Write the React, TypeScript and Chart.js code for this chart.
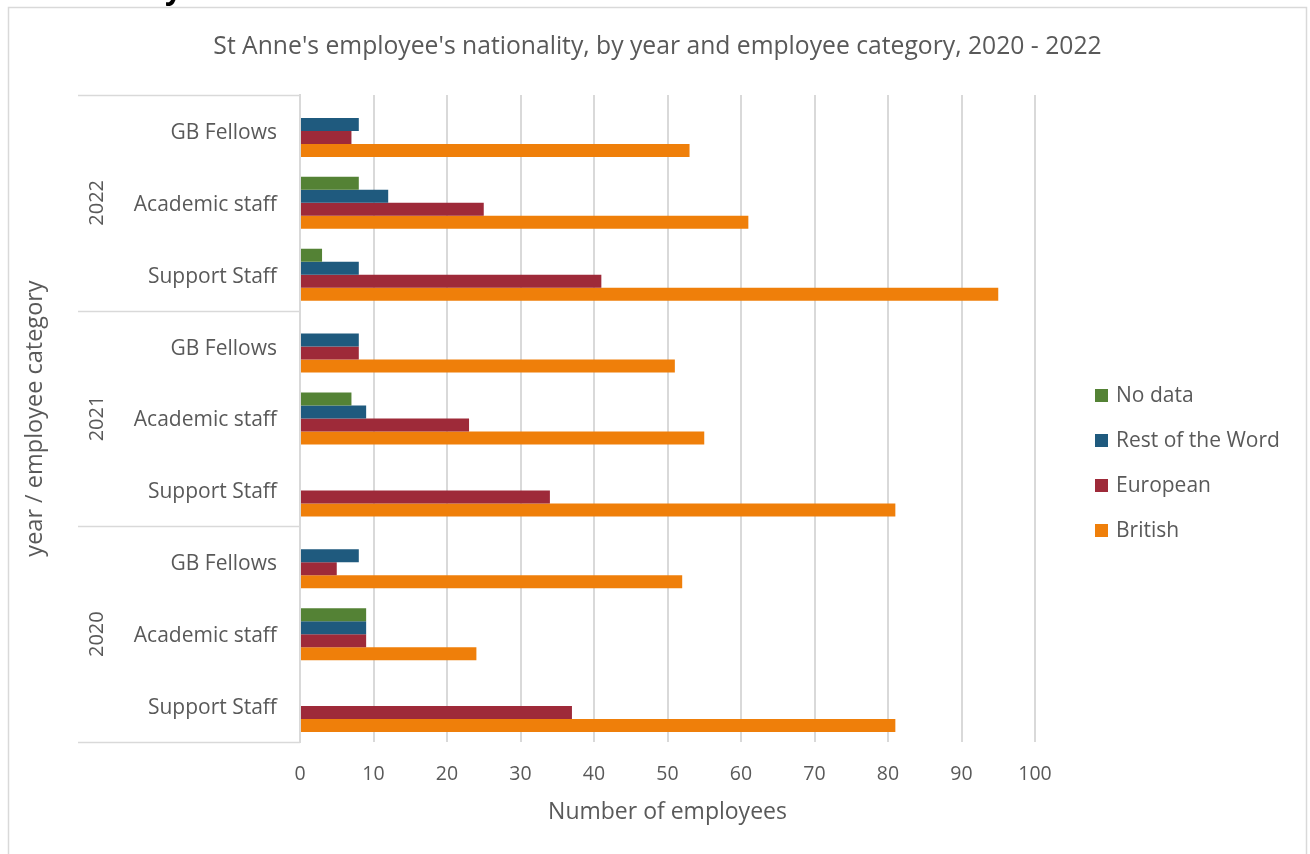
import React, { useEffect, useRef } from "react";
import { Chart, registerables } from "chart.js";

Chart.register(...registerables);

const years = ["2022", "2021", "2020"];
const roles = ["GB Fellows", "Academic staff", "Support Staff"];
const categories = years.flatMap(() => roles);

const noData = [0, 8, 3, 0, 7, 0, 0, 9, 0];
const restOfWorld = [8, 12, 8, 8, 9, 0, 8, 9, 0];
const european = [7, 25, 41, 8, 23, 34, 5, 9, 37];
const british = [53, 61, 95, 51, 55, 81, 52, 24, 81];

const seriesNames = ["No data", "Rest of the Word", "European", "British"];
const seriesColors = ["#548235", "#1f5a7e", "#9e2a39", "#ef7f0a"];

const xTicks = [0, 10, 20, 30, 40, 50, 60, 70, 80, 90, 100];

const titleText = "St Anne's employee's nationality, by year and employee category, 2020 - 2022";
const xTitle = "Number of employees";
const yTitle = "year / employee category";

const FONT = "'Open Sans', 'Noto Sans', sans-serif";
const TEXT = "#595959";
const LINE = "#d9d9d9";

export default function App() {
  const ref = useRef<HTMLCanvasElement | null>(null);

  useEffect(() => {
    const canvas = ref.current;
    if (!canvas) return;

    const overlay = {
      id: "overlay",
      afterDraw(chart: any) {
        const ctx = chart.ctx;
        const area = chart.chartArea;
        const ys = chart.scales.y;
        ctx.save();
        // outer border
        ctx.strokeStyle = LINE;
        ctx.lineWidth = 1.5;
        ctx.strokeRect(8.5, 7.5, 1298, 860);

        // cut-off heading glyph
        ctx.fillStyle = "#000";
        ctx.font = `bold 30px ${FONT}`;
        ctx.textAlign = "left";
        ctx.textBaseline = "alphabetic";
        ctx.fillText("y", 165, -1);

        // title
        ctx.fillStyle = TEXT;
        ctx.font = `24.7px ${FONT}`;
        ctx.textAlign = "center";
        ctx.textBaseline = "middle";
        ctx.fillText(titleText, 657.5, 47);

        // x title
        ctx.font = `23px ${FONT}`;
        ctx.fillText(xTitle, (area.left + area.right) / 2, 812);

        // y title
        ctx.save();
        ctx.font = `23.5px ${FONT}`;
        ctx.translate(35, (area.top + area.bottom) / 2);
        ctx.rotate(-Math.PI / 2);
        ctx.fillText(yTitle, 0, 0);
        ctx.restore();

        // group separators + year labels
        const n = roles.length;
        const half = (ys.getPixelForValue(1) - ys.getPixelForValue(0)) / 2;
        ctx.strokeStyle = LINE;
        ctx.lineWidth = 1.5;
        for (let g = 0; g <= years.length; g++) {
          const idx = g * n;
          const yy = idx < categories.length
            ? ys.getPixelForValue(idx) - half
            : ys.getPixelForValue(categories.length - 1) + half;
          ctx.beginPath();
          ctx.moveTo(78, Math.round(yy) + 0.5);
          ctx.lineTo(area.left, Math.round(yy) + 0.5);
          ctx.stroke();
        }
        ctx.font = `20px ${FONT}`;
        ctx.fillStyle = TEXT;
        years.forEach((yr, g) => {
          const top = ys.getPixelForValue(g * n) - half;
          const bot = ys.getPixelForValue(g * n + n - 1) + half;
          ctx.save();
          ctx.translate(97, (top + bot) / 2);
          ctx.rotate(-Math.PI / 2);
          ctx.textAlign = "center";
          ctx.textBaseline = "middle";
          ctx.fillText(yr, 0, 0);
          ctx.restore();
        });

        // legend
        ctx.font = `21px ${FONT}`;
        ctx.textAlign = "left";
        ctx.textBaseline = "middle";
        seriesNames.forEach((name, i) => {
          const cy = 395 + i * 45;
          ctx.fillStyle = seriesColors[i];
          ctx.fillRect(1095, cy - 6, 13, 13);
          ctx.fillStyle = TEXT;
          ctx.fillText(name, 1116, cy + 1.5);
        });
        ctx.restore();
      },
    };

    const datasets = [noData, restOfWorld, european, british].map((d, i) => ({
      label: seriesNames[i],
      data: d,
      backgroundColor: seriesColors[i],
      borderWidth: 0,
      categoryPercentage: 0.723,
      barPercentage: 1,
    }));

    const chart = new Chart(canvas, {
      type: "bar",
      data: { labels: categories, datasets },
      options: {
        indexAxis: "y",
        responsive: false,
        animation: false,
        devicePixelRatio: 1,
        layout: { padding: { top: 95, right: 275, bottom: 0, left: 0 } },
        plugins: {
          legend: { display: false },
          title: { display: false },
          tooltip: { enabled: false },
        },
        scales: {
          x: {
            type: "linear",
            min: 0,
            max: 100,
            afterFit(scale: any) {
              scale.height = 112;
            },
            afterBuildTicks(scale: any) {
              scale.ticks = xTicks.map((v) => ({ value: v }));
            },
            grid: { color: LINE, lineWidth: 2, drawTicks: false },
            border: { display: false },
            ticks: {
              font: { family: FONT, size: 19.5 },
              color: TEXT,
              padding: 21,
            },
          },
          y: {
            type: "category",
            afterFit(scale: any) {
              scale.width = 300;
            },
            grid: { display: false, drawTicks: false },
            border: { display: true, color: LINE, width: 2 },
            ticks: {
              font: { family: FONT, size: 21 },
              color: TEXT,
              padding: 23,
              labelOffset: 2,
            },
          },
        },
      },
      plugins: [overlay],
    } as any);

    return () => chart.destroy();
  }, []);

  return (
    <canvas
      ref={ref}
      width={1310}
      height={854}
      style={{ position: "fixed", left: 0, top: 0, width: 1310, height: 854, background: "#fff" }}
    />
  );
}
